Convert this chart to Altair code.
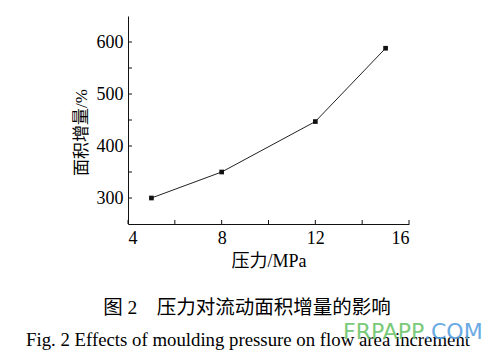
import altair as alt
import pandas as pd

pressure = [5, 8, 12, 15]
increment = [300, 350, 447, 588]

x_major = [4, 8, 12, 16]
x_minor = [6, 10, 14]
y_major = [300, 400, 500, 600]
y_minor = [350, 450, 550]

W, H = 281, 208
SERIF = "Liberation Serif, Noto Sans CJK SC"

df = pd.DataFrame({"p": pressure, "v": increment})
xs = alt.Scale(domain=[4, 16], nice=False, zero=False)
ys = alt.Scale(domain=[250, 650], nice=False, zero=False)

x_axis = alt.Axis(values=x_major, tickSize=0, labelPadding=5, labelFont=SERIF, labelFontSize=18,
                  labelColor="#000", domainColor="#111", grid=False, title="压力/MPa",
                  titleFont=SERIF, titleFontSize=18, titleFontWeight="normal", titleColor="#000",
                  titlePadding=5)
y_axis = alt.Axis(values=y_major, tickSize=0, labelPadding=5, labelFont=SERIF, labelFontSize=18,
                  labelColor="#000", domainColor="#111", grid=False, title="面积增量/%",
                  titleFont=SERIF, titleFontSize=17, titleFontWeight="normal", titleColor="#000",
                  titlePadding=6, titleY=H / 2 + 12)

line = alt.Chart(df).mark_line(color="#222", strokeWidth=1).encode(
    x=alt.X("p:Q", scale=xs, axis=x_axis),
    y=alt.Y("v:Q", scale=ys, axis=y_axis),
)
pts = alt.Chart(df).mark_point(shape="square", filled=True, size=22, color="#111", opacity=1).encode(
    x=alt.X("p:Q", scale=xs), y=alt.Y("v:Q", scale=ys)
)

xt = pd.DataFrame({"t": x_major + x_minor})
yt = pd.DataFrame({"t": y_major + y_minor})
xticks = alt.Chart(xt).mark_rule(color="#111", strokeWidth=1).encode(
    x=alt.X("t:Q", scale=xs), y=alt.value(H), y2=alt.value(H - 4)
)
yticks = alt.Chart(yt).mark_rule(color="#111", strokeWidth=1).encode(
    y=alt.Y("t:Q", scale=ys), x=alt.value(0), x2=alt.value(4)
)

cap1 = alt.Chart(pd.DataFrame({"t": ["图\u00a02\u3000压力对流动面积增量的影响"]})).mark_text(
    font=SERIF, fontSize=19.5, color="#000", align="center", baseline="middle", clip=False
).encode(text="t:N", x=alt.value(247 - 128), y=alt.value(308 - 16))

cap2 = alt.Chart(pd.DataFrame({"t": ["Fig. 2 Effects of moulding pressure on flow area increment"]})).mark_text(
    font=SERIF, fontSize=18.8, color="#000", align="center", baseline="middle", clip=False
).encode(text="t:N", x=alt.value(248 - 128), y=alt.value(340 - 16))

wm1 = alt.Chart(pd.DataFrame({"t": ["FRPAPP"]})).mark_text(
    font="DejaVu Sans", fontSize=22, color="#6cc56c", align="left", baseline="middle", opacity=0.9
).encode(text="t:N", x=alt.value(343 - 128), y=alt.value(332 - 16))
wm2 = alt.Chart(pd.DataFrame({"t": [".COM"]})).mark_text(
    font="DejaVu Sans", fontSize=22, color="#5aa2e2", align="left", baseline="middle", opacity=0.9
).encode(text="t:N", x=alt.value(424 - 128), y=alt.value(332 - 16))

chart = alt.layer(line, pts, xticks, yticks, cap1, cap2, wm1, wm2).properties(
    width=W, height=H,
    autosize=alt.AutoSizeParams(type="none"),
    padding={"left": 128, "top": 16, "right": 500 - 128 - W, "bottom": 356 - 16 - H},
    background="white",
).configure_view(stroke=None)

chart.save("out.html", embed_options={"renderer": "svg", "actions": False})
